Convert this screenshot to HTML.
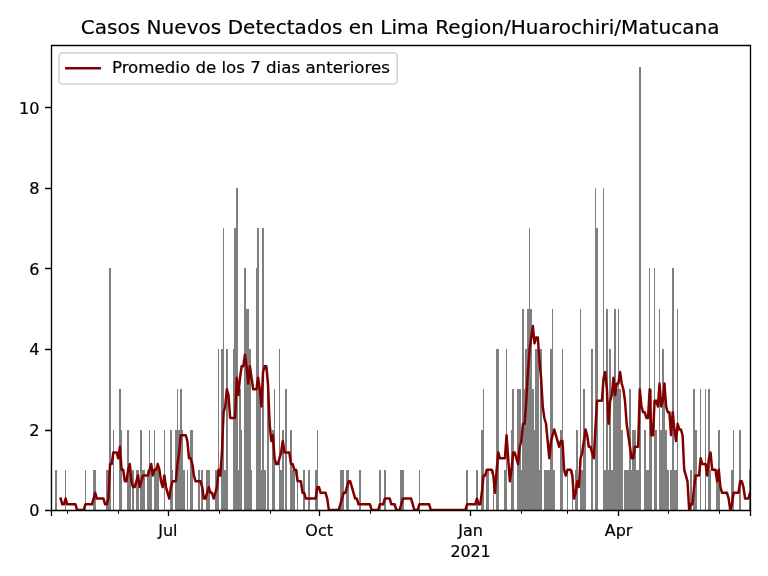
<!DOCTYPE html>
<html lang="es"><head><meta charset="utf-8"><title>Casos Nuevos Detectados en Lima Region/Huarochiri/Matucana</title>
<style>html,body{margin:0;padding:0;background:#fff;width:768px;height:576px;overflow:hidden}svg{display:block}</style></head>
<body>
<svg width="768" height="576" viewBox="0 0 768 576" style="display:block">
<rect width="768" height="576" fill="#fff"/>
<defs><clipPath id="c"><rect x="50.82" y="45.05" width="699.21" height="465.00"/></clipPath></defs>
<g clip-path="url(#c)"><path d="M50 510V470H52V510ZM55 510V470H57V510ZM65 510V470H66V510ZM85 510V470H86V510ZM93 510V470H94V510ZM94 510V470H96V510ZM106 510V470H108V510ZM108 510V470H109V510ZM109 510V268H111V510ZM113 510V430H114V510ZM119 510V389H121V510ZM121 510V430H122V510ZM127 510V430H129V510ZM129 510V470H131V510ZM132 510V470H134V510ZM136 510V470H137V510ZM137 510V470H139V510ZM140 510V430H142V510ZM142 510V470H144V510ZM144 510V470H145V510ZM147 510V470H149V510ZM149 510V430H150V510ZM150 510V470H152V510ZM154 510V430H155V510ZM155 510V470H157V510ZM157 510V470H159V510ZM164 510V430H165V510ZM170 510V430H172V510ZM172 510V470H173V510ZM175 510V430H177V510ZM177 510V389H178V510ZM178 510V430H180V510ZM180 510V389H182V510ZM182 510V430H183V510ZM183 510V470H185V510ZM187 510V470H188V510ZM190 510V430H191V510ZM191 510V430H193V510ZM198 510V470H200V510ZM201 510V470H203V510ZM206 510V470H208V510ZM208 510V470H210V510ZM215 510V470H216V510ZM216 510V470H218V510ZM218 510V349H219V510ZM221 510V349H223V510ZM223 510V228H224V510ZM224 510V470H226V510ZM226 510V349H228V510ZM233 510V349H234V510ZM234 510V228H236V510ZM236 510V188H238V510ZM238 510V470H239V510ZM239 510V389H241V510ZM241 510V430H242V510ZM244 510V268H246V510ZM246 510V309H247V510ZM247 510V309H249V510ZM249 510V349H251V510ZM251 510V470H252V510ZM256 510V268H257V510ZM257 510V228H259V510ZM259 510V389H261V510ZM261 510V470H262V510ZM262 510V228H264V510ZM264 510V470H266V510ZM267 510V389H269V510ZM272 510V430H274V510ZM274 510V389H275V510ZM279 510V349H280V510ZM280 510V470H282V510ZM282 510V430H284V510ZM285 510V389H287V510ZM290 510V430H292V510ZM292 510V470H293V510ZM293 510V470H295V510ZM297 510V470H298V510ZM303 510V470H305V510ZM308 510V470H310V510ZM315 510V470H317V510ZM317 510V430H318V510ZM340 510V470H341V510ZM341 510V470H343V510ZM343 510V470H344V510ZM346 510V470H348V510ZM348 510V470H349V510ZM359 510V470H361V510ZM379 510V470H381V510ZM384 510V470H386V510ZM400 510V470H402V510ZM402 510V470H404V510ZM419 510V470H420V510ZM466 510V470H468V510ZM476 510V470H478V510ZM481 510V430H483V510ZM483 510V389H484V510ZM486 510V470H488V510ZM488 510V470H489V510ZM493 510V470H494V510ZM496 510V349H497V510ZM497 510V349H499V510ZM504 510V470H506V510ZM506 510V349H507V510ZM511 510V430H512V510ZM512 510V389H514V510ZM517 510V389H519V510ZM519 510V389H521V510ZM521 510V470H522V510ZM522 510V309H524V510ZM524 510V389H525V510ZM525 510V349H527V510ZM527 510V309H529V510ZM529 510V228H530V510ZM530 510V309H532V510ZM532 510V389H534V510ZM534 510V430H535V510ZM535 510V349H537V510ZM537 510V349H539V510ZM539 510V470H540V510ZM540 510V349H542V510ZM544 510V470H545V510ZM545 510V470H547V510ZM547 510V470H548V510ZM548 510V470H550V510ZM550 510V349H552V510ZM552 510V309H553V510ZM553 510V470H555V510ZM560 510V430H562V510ZM562 510V349H563V510ZM567 510V470H568V510ZM572 510V470H573V510ZM575 510V470H576V510ZM576 510V430H578V510ZM580 510V309H581V510ZM581 510V470H583V510ZM583 510V389H585V510ZM585 510V430H586V510ZM591 510V349H593V510ZM595 510V188H596V510ZM596 510V228H598V510ZM603 510V188H604V510ZM604 510V470H606V510ZM606 510V309H608V510ZM608 510V470H609V510ZM609 510V349H611V510ZM611 510V470H613V510ZM613 510V389H614V510ZM614 510V309H616V510ZM616 510V389H618V510ZM618 510V309H619V510ZM619 510V389H621V510ZM621 510V430H623V510ZM624 510V470H626V510ZM626 510V470H627V510ZM627 510V470H629V510ZM629 510V389H631V510ZM631 510V470H632V510ZM632 510V430H634V510ZM634 510V430H636V510ZM636 510V470H637V510ZM637 510V470H639V510ZM639 510V67H641V510ZM644 510V430H646V510ZM646 510V470H647V510ZM647 510V470H649V510ZM649 510V268H650V510ZM650 510V389H652V510ZM654 510V268H655V510ZM655 510V430H657V510ZM659 510V309H660V510ZM660 510V430H662V510ZM662 510V349H664V510ZM664 510V389H665V510ZM665 510V430H667V510ZM667 510V470H669V510ZM670 510V470H672V510ZM672 510V268H674V510ZM674 510V470H675V510ZM675 510V470H677V510ZM677 510V309H678V510ZM690 510V470H692V510ZM693 510V389H695V510ZM695 510V430H697V510ZM700 510V389H701V510ZM705 510V389H706V510ZM708 510V389H710V510ZM710 510V470H711V510ZM716 510V470H718V510ZM718 510V430H720V510ZM731 510V470H733V510ZM733 510V430H734V510ZM739 510V430H741V510ZM749 510V470H751V510Z" fill="#808080" shape-rendering="crispEdges"/>
<polyline points="60.69,498.55 62.34,504.30 63.98,504.30 65.63,498.55 67.27,504.30 68.92,504.30 70.56,504.30 72.21,504.30 73.85,504.30 75.50,504.30 77.14,510.05 78.79,510.05 80.43,510.05 82.08,510.05 83.72,510.05 85.37,504.30 87.01,504.30 88.66,504.30 90.30,504.30 91.95,504.30 93.60,498.55 95.24,492.80 96.89,498.55 98.53,498.55 100.18,498.55 101.82,498.55 103.47,498.55 105.11,504.30 106.76,504.30 108.40,498.55 110.05,464.04 111.69,464.04 113.34,452.54 114.98,452.54 116.63,452.54 118.27,458.29 119.92,446.78 121.56,469.79 123.21,469.79 124.85,481.29 126.50,481.29 128.14,469.79 129.79,464.04 131.43,481.29 133.08,487.04 134.73,487.04 136.37,481.29 138.02,475.54 139.66,487.04 141.31,481.29 142.95,475.54 144.60,475.54 146.24,475.54 147.89,475.54 149.53,469.79 151.18,464.04 152.82,475.54 154.47,469.79 156.11,469.79 157.76,464.04 159.40,469.79 161.05,481.29 162.69,487.04 164.34,475.54 165.98,487.04 167.63,492.80 169.27,498.55 170.92,487.04 172.56,481.29 174.21,481.29 175.86,481.29 177.50,464.04 179.15,452.54 180.79,435.28 182.44,435.28 184.08,435.28 185.73,435.28 187.37,441.03 189.02,458.29 190.66,458.29 192.31,464.04 193.95,475.54 195.60,481.29 197.24,481.29 198.89,481.29 200.53,481.29 202.18,487.04 203.82,498.55 205.47,498.55 207.11,492.80 208.76,487.04 210.40,492.80 212.05,492.80 213.69,498.55 215.34,492.80 216.99,487.04 218.63,469.79 220.28,475.54 221.92,452.54 223.57,412.28 225.21,406.52 226.86,389.27 228.50,395.02 230.15,418.03 231.79,418.03 233.44,418.03 235.08,418.03 236.73,377.77 238.37,395.02 240.02,377.77 241.66,366.26 243.31,366.26 244.95,354.76 246.60,366.26 248.24,383.52 249.89,366.26 251.53,377.77 253.18,389.27 254.82,389.27 256.47,389.27 258.12,377.77 259.76,389.27 261.41,406.52 263.05,372.02 264.70,366.26 266.34,366.26 267.99,383.52 269.63,423.78 271.28,441.03 272.92,435.28 274.57,458.29 276.21,464.04 277.86,464.04 279.50,458.29 281.15,452.54 282.79,441.03 284.44,452.54 286.08,452.54 287.73,452.54 289.37,452.54 291.02,464.04 292.66,464.04 294.31,469.79 295.95,469.79 297.60,481.29 299.25,481.29 300.89,481.29 302.54,492.80 304.18,492.80 305.83,498.55 307.47,498.55 309.12,498.55 310.76,498.55 312.41,498.55 314.05,498.55 315.70,498.55 317.34,487.04 318.99,487.04 320.63,492.80 322.28,492.80 323.92,492.80 325.57,492.80 327.21,498.55 328.86,510.05 330.50,510.05 332.15,510.05 333.79,510.05 335.44,510.05 337.08,510.05 338.73,510.05 340.38,504.30 342.02,498.55 343.67,492.80 345.31,492.80 346.96,487.04 348.60,481.29 350.25,481.29 351.89,487.04 353.54,492.80 355.18,498.55 356.83,498.55 358.47,504.30 360.12,504.30 361.76,504.30 363.41,504.30 365.05,504.30 366.70,504.30 368.34,504.30 369.99,504.30 371.63,510.05 373.28,510.05 374.92,510.05 376.57,510.05 378.21,510.05 379.86,504.30 381.51,504.30 383.15,504.30 384.80,498.55 386.44,498.55 388.09,498.55 389.73,498.55 391.38,504.30 393.02,504.30 394.67,504.30 396.31,510.05 397.96,510.05 399.60,510.05 401.25,504.30 402.89,498.55 404.54,498.55 406.18,498.55 407.83,498.55 409.47,498.55 411.12,498.55 412.76,504.30 414.41,510.05 416.05,510.05 417.70,510.05 419.34,504.30 420.99,504.30 422.64,504.30 424.28,504.30 425.93,504.30 427.57,504.30 429.22,504.30 430.86,510.05 432.51,510.05 434.15,510.05 435.80,510.05 437.44,510.05 439.09,510.05 440.73,510.05 442.38,510.05 444.02,510.05 445.67,510.05 447.31,510.05 448.96,510.05 450.60,510.05 452.25,510.05 453.89,510.05 455.54,510.05 457.18,510.05 458.83,510.05 460.47,510.05 462.12,510.05 463.77,510.05 465.41,510.05 467.06,504.30 468.70,504.30 470.35,504.30 471.99,504.30 473.64,504.30 475.28,504.30 476.93,498.55 478.57,504.30 480.22,504.30 481.86,492.80 483.51,475.54 485.15,475.54 486.80,469.79 488.44,469.79 490.09,469.79 491.73,469.79 493.38,475.54 495.02,492.80 496.67,469.79 498.31,452.54 499.96,458.29 501.60,458.29 503.25,458.29 504.90,458.29 506.54,435.28 508.19,458.29 509.83,481.29 511.48,469.79 513.12,452.54 514.77,452.54 516.41,458.29 518.06,464.04 519.70,446.78 521.35,441.03 522.99,423.78 524.64,423.78 526.28,400.77 527.93,372.02 529.57,349.01 531.22,337.51 532.86,326.00 534.51,343.26 536.15,337.51 537.80,337.51 539.44,360.51 541.09,377.77 542.73,406.52 544.38,418.03 546.03,423.78 547.67,441.03 549.32,458.29 550.96,441.03 552.61,435.28 554.25,429.53 555.90,435.28 557.54,441.03 559.19,446.78 560.83,441.03 562.48,441.03 564.12,469.79 565.77,475.54 567.41,469.79 569.06,469.79 570.70,469.79 572.35,475.54 573.99,498.55 575.64,492.80 577.28,481.29 578.93,487.04 580.57,458.29 582.22,452.54 583.86,441.03 585.51,429.53 587.16,435.28 588.80,446.78 590.45,446.78 592.09,452.54 593.74,458.29 595.38,429.53 597.03,400.77 598.67,400.77 600.32,400.77 601.96,400.77 603.61,377.77 605.25,372.02 606.90,389.27 608.54,423.78 610.19,400.77 611.83,395.02 613.48,377.77 615.12,395.02 616.77,383.52 618.41,383.52 620.06,372.02 621.70,383.52 623.35,389.27 624.99,400.77 626.64,423.78 628.29,435.28 629.93,446.78 631.58,458.29 633.22,458.29 634.87,446.78 636.51,446.78 638.16,446.78 639.80,389.27 641.45,406.52 643.09,412.28 644.74,412.28 646.38,418.03 648.03,418.03 649.67,389.27 651.32,435.28 652.96,435.28 654.61,400.77 656.25,400.77 657.90,406.52 659.54,383.52 661.19,406.52 662.83,400.77 664.48,383.52 666.12,406.52 667.77,412.28 669.42,412.28 671.06,435.28 672.71,412.28 674.35,429.53 676.00,441.03 677.64,423.78 679.29,429.53 680.93,429.53 682.58,435.28 684.22,469.79 685.87,475.54 687.51,481.29 689.16,510.05 690.80,504.30 692.45,504.30 694.09,487.04 695.74,475.54 697.38,475.54 699.03,475.54 700.67,458.29 702.32,464.04 703.96,464.04 705.61,464.04 707.25,475.54 708.90,458.29 710.55,452.54 712.19,469.79 713.84,469.79 715.48,469.79 717.13,481.29 718.77,469.79 720.42,487.04 722.06,492.80 723.71,492.80 725.35,492.80 727.00,492.80 728.64,498.55 730.29,510.05 731.93,504.30 733.58,492.80 735.22,492.80 736.87,492.80 738.51,492.80 740.16,481.29 741.80,481.29 743.45,487.04 745.09,498.55 746.74,498.55 748.38,498.55 750.03,492.80" fill="none" stroke="#800000" stroke-width="2.5" stroke-linejoin="round" stroke-linecap="square"/></g>
<path d="M51.5 510.5V45.5H750.5V510.5Z" fill="none" stroke="#000" stroke-width="1.3333" stroke-linejoin="miter"/>
<path d="M51.22 510.5H44.99M51.22 430.5H44.99M51.22 349.5H44.99M51.22 268.5H44.99M51.22 188.5H44.99M51.22 107.5H44.99M51.5 509.65V515.88M750.5 509.65V515.88M168.5 509.65V515.88M319.5 509.65V515.88M470.5 509.65V515.88M618.5 509.65V515.88" stroke="#000" stroke-width="1.3333" fill="none"/>
<path d="M67.5 510.5v3.33M118.5 510.5v3.33M219.5 510.5v3.33M270.5 510.5v3.33M370.5 510.5v3.33M419.5 510.5v3.33M521.5 510.5v3.33M567.5 510.5v3.33M668.5 510.5v3.33M719.5 510.5v3.33" stroke="#000" stroke-width="1" fill="none"/>
<g font-family="'DejaVu Sans','Liberation Sans',sans-serif" font-size="16.667px" fill="#000" stroke="#000" stroke-width="0.2">
<text x="39.66" y="516.25" text-anchor="end" textLength="10.29" lengthAdjust="spacingAndGlyphs">0</text>
<text x="39.66" y="435.73" text-anchor="end" textLength="10.29" lengthAdjust="spacingAndGlyphs">2</text>
<text x="39.66" y="355.21" text-anchor="end" textLength="10.29" lengthAdjust="spacingAndGlyphs">4</text>
<text x="39.66" y="274.69" text-anchor="end" textLength="10.29" lengthAdjust="spacingAndGlyphs">6</text>
<text x="39.66" y="194.17" text-anchor="end" textLength="10.29" lengthAdjust="spacingAndGlyphs">8</text>
<text x="39.66" y="113.65" text-anchor="end" textLength="20.56" lengthAdjust="spacingAndGlyphs">10</text>
<text x="167.83" y="536.00" text-anchor="middle" textLength="19.31" lengthAdjust="spacingAndGlyphs">Jul</text>
<text x="319.19" y="536.00" text-anchor="middle" textLength="27.66" lengthAdjust="spacingAndGlyphs">Oct</text>
<text x="470.55" y="536.00" text-anchor="middle" textLength="24.66" lengthAdjust="spacingAndGlyphs">Jan</text>
<text x="470.55" y="557.00" text-anchor="middle" textLength="40.27" lengthAdjust="spacingAndGlyphs">2021</text>
<text x="618.61" y="536.00" text-anchor="middle" textLength="27.68" lengthAdjust="spacingAndGlyphs">Apr</text>
<text x="400.1" y="34.4" text-anchor="middle" font-size="20px" textLength="638.9" lengthAdjust="spacing">Casos Nuevos Detectados en Lima Region/Huarochiri/Matucana</text>
</g>
<rect x="59.1" y="52.9" width="338.1" height="31.1" rx="3.3" ry="3.3" fill="#fff" fill-opacity="0.8" stroke="#ccc" stroke-opacity="0.8" stroke-width="1.667"/>
<path d="M66.3 68.2H99.7" stroke="#800000" stroke-width="2.5" stroke-linecap="square"/>
<text x="111.9" y="73.35" font-family="'DejaVu Sans','Liberation Sans',sans-serif" font-size="16.667px" fill="#000" stroke="#000" stroke-width="0.2" textLength="278.0" lengthAdjust="spacing">Promedio de los 7 dias anteriores</text>
</svg>
</body></html>
